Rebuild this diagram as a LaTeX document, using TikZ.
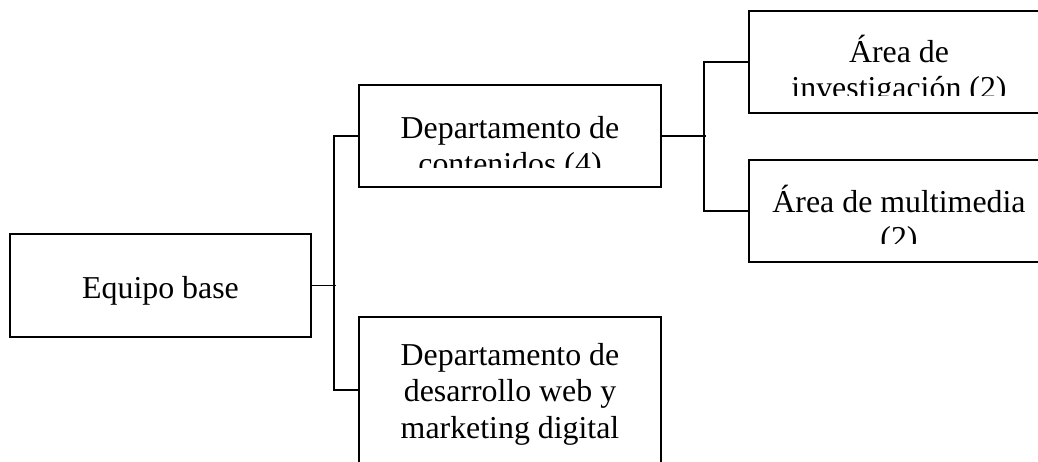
\documentclass[tikz,border=0pt]{standalone}
\usepackage{fontspec}
\setmainfont{Liberation Serif}
\begin{document}
\begin{tikzpicture}[x=0.75pt,y=-0.75pt,
  box/.style={draw,line width=1.4pt,inner sep=0pt,fill=none},
  lbl/.style={anchor=base,inner sep=0pt,font=\fontsize{23.9}{27}\selectfont},
  conn/.style={line width=1.4pt}]
\useasboundingbox (0,0) rectangle (1038,461);
\clip (0,0) rectangle (1038,461);
% boxes
\node[box,minimum width=225.75pt,minimum height=77.25pt] (eq) at (160.5,285.5) {};
\node[box,minimum width=226.5pt,minimum height=76.5pt] (cont) at (510,136) {};
\node[box,minimum width=226.5pt,minimum height=109.5pt] (des) at (510,390) {};
\node[box,minimum width=225pt,minimum height=76.5pt] (inv) at (899,62) {};
\node[box,minimum width=225pt,minimum height=76.5pt] (mul) at (899,211) {};
% connectors
\draw[conn] (eq.east) -- ++(24,0) coordinate (j1);
\draw[conn] (cont.west) -- ++(-24,0) |- (des.west);
\draw[conn] (cont.east) -- ++(44,0) coordinate (j2);
\draw[conn] (inv.west) -- ++(-44,0) |- (mul.west);
% texts
\node[lbl] (teq) at (160.5,298) {Equipo base};
\begin{scope}
\clip (359,85) rectangle (661,167);
\node[lbl] (tc1) at (510,138) {Departamento de};
\node[lbl] (tc2) at (510,174) {contenidos (4)};
\end{scope}
\node[lbl] (td1) at (510,365) {Departamento de};
\node[lbl] (td2) at (510,401) {desarrollo web y};
\node[lbl] (td3) at (510,438) {marketing digital};
\begin{scope}
\clip (749,11) rectangle (1049,95);
\node[lbl] (ti1) at (899,62) {Área de};
\node[lbl] (ti2) at (899,98) {investigación (2)};
\end{scope}
\begin{scope}
\clip (749,160) rectangle (1049,243);
\node[lbl] (tm1) at (899,212) {Área de multimedia};
\node[lbl] (tm2) at (899,248) {(2)};
\end{scope}
\end{tikzpicture}
\end{document}
